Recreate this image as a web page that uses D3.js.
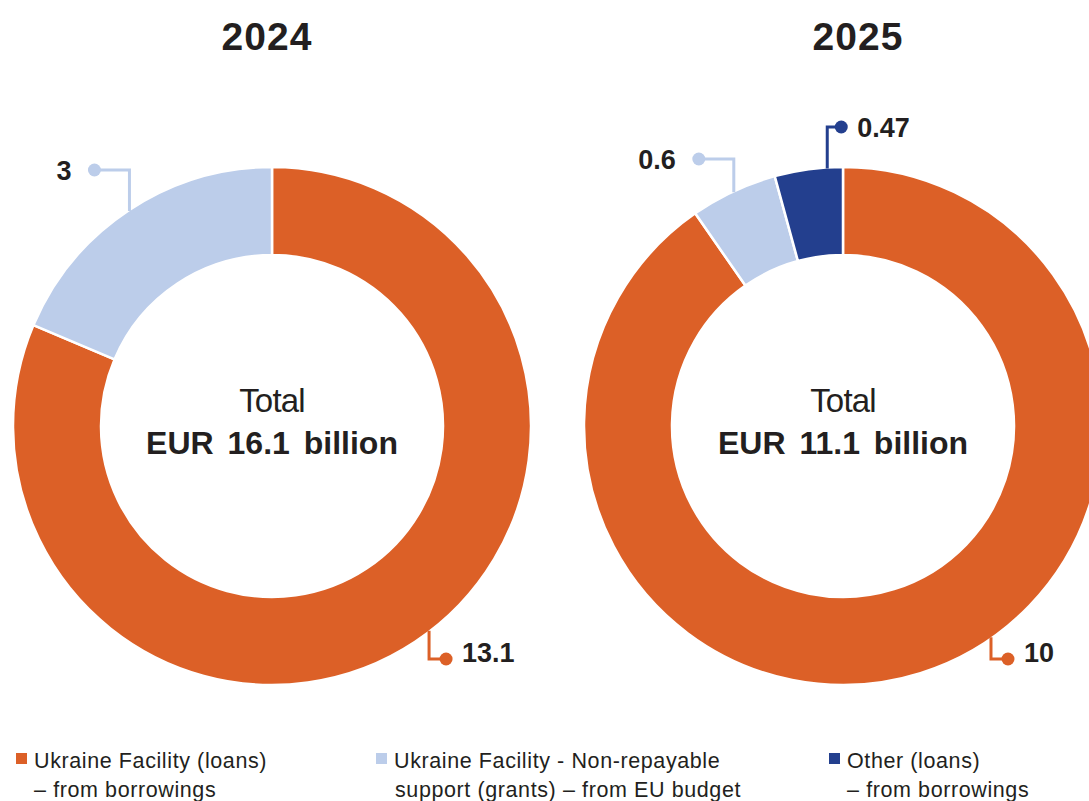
<!DOCTYPE html>
<html>
<head>
<meta charset="utf-8">
<script src="https://cdn.jsdelivr.net/npm/d3@7"></script>
<style>
  body { margin: 0; background: #fff; }
  svg { display: block; font-family: "Liberation Sans", Arial, sans-serif; }
</style>
</head>
<body>
<div id="chart"></div>
<script>
// data
const years = ["2024", "2025"];
const categories = [
  "Ukraine Facility (loans) – from borrowings",
  "Ukraine Facility - Non-repayable support (grants) – from EU budget",
  "Other (loans) – from borrowings"
];
const values2024 = [13.1, 3, 0];
const values2025 = [10, 0.6, 0.47];
const totals = ["EUR 16.1 billion", "EUR 11.1 billion"];
const labels2024 = ["13.1", "3", null];
const labels2025 = ["10", "0.6", "0.47"];

const colors = ["#dc6027", "#bccdea", "#233f8e"];
const textColor = "#231f20";

const width = 1089, height = 801;
const svg = d3.select("#chart").append("svg")
  .attr("width", width)
  .attr("height", height);

const outerR = 259, innerR = 171;
const centers = [{ x: 272, y: 426 }, { x: 843, y: 426 }];

const pie = d3.pie().sort(null).value(d => d.value);
const arc = d3.arc().innerRadius(innerR).outerRadius(outerR);

// leader settings per donut / slice: angle override (deg), elbow y, horizontal run, label side
const leaders = [
  [
    { angle: 142.5, elbowY: 659, run: 17, side: "right" },
    { angle: null, elbowY: 170, run: -35, side: "left" },
    null
  ],
  [
    { angle: 145, elbowY: 659, run: 17, side: "right" },
    { angle: null, elbowY: 159, run: -35, side: "left" },
    { angle: 356.5, elbowY: 127, run: 14, side: "right" }
  ]
];

const allValues = [values2024, values2025];
const allLabels = [labels2024, labels2025];

allValues.forEach((vals, i) => {
  const c = centers[i];
  const data = vals.map((v, k) => ({ value: v, k: k, label: allLabels[i][k] }));
  const g = svg.append("g").attr("transform", `translate(${c.x},${c.y})`);

  const arcs = pie(data.filter(d => d.value > 0));

  g.selectAll("path")
    .data(arcs)
    .enter().append("path")
      .attr("d", arc)
      .attr("fill", d => colors[d.data.k])
      .attr("stroke", "#fff")
      .attr("stroke-width", 2.5);

  // center text
  g.append("text")
    .attr("text-anchor", "middle")
    .attr("y", -14)
    .attr("font-size", 33)
    .attr("letter-spacing", -0.8)
    .attr("fill", textColor)
    .text("Total");
  g.append("text")
    .attr("text-anchor", "middle")
    .attr("y", 28)
    .attr("font-size", 32)
    .attr("font-weight", "bold")
    .attr("word-spacing", 5)
    .attr("fill", textColor)
    .text(totals[i]);

  // leaders + value labels
  arcs.forEach(a => {
    const cfg = leaders[i][a.data.k];
    if (!cfg || !a.data.label) return;
    const ang = cfg.angle != null ? cfg.angle * Math.PI / 180 : (a.startAngle + a.endAngle) / 2;
    const x0 = Math.sin(ang) * (outerR - 1);
    const y0 = -Math.cos(ang) * (outerR - 1);
    const ey = cfg.elbowY - c.y;
    const dotX = x0 + cfg.run;
    const col = colors[a.data.k];

    g.append("path")
      .attr("d", d3.line()([[x0, y0], [x0, ey], [dotX, ey]]))
      .attr("fill", "none")
      .attr("stroke", col)
      .attr("stroke-width", 3);
    g.append("circle")
      .attr("cx", dotX)
      .attr("cy", ey)
      .attr("r", 6.5)
      .attr("fill", col);

    const below = cfg.elbowY > c.y;
    g.append("text")
      .attr("x", cfg.side === "left" ? dotX - 23 : dotX + 16)
      .attr("y", below ? ey + 3 : ey + 10)
      .attr("text-anchor", cfg.side === "left" ? "end" : "start")
      .attr("font-size", 27)
      .attr("font-weight", "bold")
      .attr("fill", textColor)
      .text(a.data.label);
  });
});

// titles
const titleX = [267, 858];
years.forEach((y, i) => {
  svg.append("text")
    .attr("x", titleX[i])
    .attr("y", 50)
    .attr("text-anchor", "middle")
    .attr("font-size", 39)
    .attr("font-weight", "bold")
    .attr("letter-spacing", 1)
    .attr("fill", textColor)
    .text(y);
});

// legend
const legendLines = [
  ["Ukraine Facility (loans)", "– from borrowings"],
  ["Ukraine Facility - Non-repayable", "support (grants) – from EU budget"],
  ["Other (loans)", "– from borrowings"]
];
const legendX = [16, 376, 829];
legendLines.forEach((lines, k) => {
  const lg = svg.append("g").attr("transform", `translate(${legendX[k]},0)`);
  lg.append("rect")
    .attr("x", 0).attr("y", 753)
    .attr("width", 11).attr("height", 11)
    .attr("fill", colors[k]);
  lines.forEach((t, j) => {
    lg.append("text")
      .attr("x", k === 1 && j === 1 ? 19 : 18)
      .attr("y", 768 + j * 29)
      .attr("font-size", 21.5)
      .attr("letter-spacing", 0.6)
      .attr("fill", textColor)
      .text(t);
  });
});
</script>
</body>
</html>
